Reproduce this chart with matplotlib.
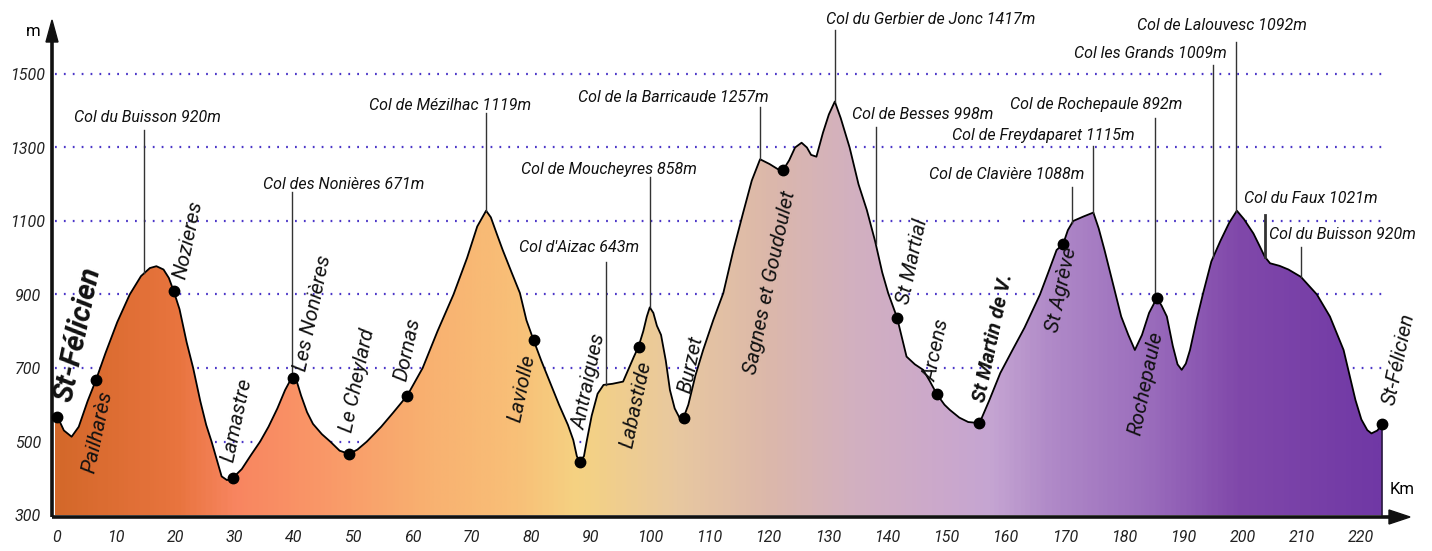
import numpy as np
import matplotlib.pyplot as plt
from matplotlib.colors import LinearSegmentedColormap
from matplotlib.patches import Polygon

# elevation profile (km, m)
km = [0.0, 0.4, 1.5, 2.8, 4.0, 5.5, 6.9, 8.5, 10.5, 12.6, 14.5, 16.0, 17.1, 18.3, 19.2,
      20.0, 21.0, 22.2, 23.3, 24.5, 25.5, 26.4, 27.3, 28.1, 29.0, 30.0, 31.5, 33.0, 34.6,
      36.0, 37.5, 38.8, 39.7, 40.2, 40.8, 41.5, 42.5, 43.5, 45.0, 46.4, 48.0, 49.6, 51.0,
      52.6, 55.0, 57.0, 59.4, 62.0, 64.5, 67.2, 69.5, 71.2, 72.7, 73.5, 74.5, 75.5, 77.0,
      78.4, 79.5, 80.7, 82.0, 83.5, 85.0, 86.5, 87.4, 88.0, 88.5, 89.2, 89.7, 90.5, 91.5,
      92.5, 94.0, 95.8, 96.8, 97.6, 98.4, 99.2, 99.8, 100.3, 100.9, 101.5, 102.2, 103.0,
      103.7, 104.5, 105.3, 106.0, 106.8, 108.0, 109.3, 111.0, 112.7, 114.4, 116.0, 117.5,
      118.9, 120.5, 122.0, 122.8, 123.8, 124.8, 125.9, 126.8, 127.5, 128.4, 129.5, 130.5,
      131.5, 132.5, 134.0, 135.5, 136.9, 138.3, 139.5, 140.5, 142.0, 143.6, 145.0, 146.4,
      147.5, 148.7, 150.0, 150.9, 152.5, 154.0, 155.9, 157.5, 159.4, 161.5, 163.5, 166.1,
      167.5, 168.9, 170.0, 170.8, 171.7, 173.4, 175.1, 176.0, 177.0, 178.4, 179.8, 181.0,
      182.1, 183.3, 184.5, 185.8, 186.6, 187.5, 188.5, 189.3, 190.0, 190.7, 191.4, 192.5,
      193.6, 195.0, 196.5, 198.0, 199.3, 200.5, 202.1, 203.2, 204.0, 204.9, 206.5, 208.0,
      210.1, 212.8, 215.0, 217.3, 219.3, 220.3, 221.3, 222.0, 223.0, 223.8]
elev = [572, 568, 530, 513, 540, 610, 667, 740, 825, 900, 950, 972, 977, 968, 945,
        910, 860, 770, 700, 610, 545, 500, 450, 405, 395, 401, 425, 462, 500,
        540, 590, 640, 667, 672, 662, 625, 580, 548, 520, 500, 475, 466, 478,
        500, 540, 578, 625, 700, 800, 900, 1000, 1085, 1128, 1110, 1065, 1021, 960,
        904, 830, 776, 720, 660, 600, 545, 504, 460, 445, 460, 504, 570, 630,
        654, 657, 663, 700, 730, 758, 800, 840, 865, 850, 815, 790, 720,
        640, 590, 565, 565, 600, 680, 749, 830, 904, 1021, 1120, 1210,
        1268, 1255, 1240, 1239, 1265, 1300, 1313, 1300, 1280, 1275, 1340, 1390,
        1425, 1380, 1300, 1200, 1130, 1045, 960, 904, 837, 731, 710, 695,
        665, 629, 600, 586, 565, 553, 550, 610, 686, 750, 810, 900,
        960, 1021, 1037, 1075, 1100, 1112, 1123, 1080, 1020, 930, 840, 790,
        749, 790, 850, 890, 870, 840, 760, 710, 695, 712, 749, 830,
        903, 990, 1045, 1095, 1128, 1105, 1066, 1030, 1003, 985, 978, 968,
        948, 900, 840, 749, 613, 560, 531, 522, 530, 548]

# towns on the route
town_names = ["St-Félicien", "Pailharès", "Nozieres", "Lamastre", "Les Nonières",
              "Le Cheylard", "Dornas", "Laviolle", "Antraigues", "Labastide", "Burzet",
              "Sagnes et Goudoulet", "St Martial", "Arcens", "St Martin de V.",
              "St Agrève", "Rochepaule", "St-Félicien"]
town_km = [0.4, 6.9, 20.0, 30.0, 40.2, 49.6, 59.4, 80.7, 88.5, 98.4, 106.0,
           122.8, 142.0, 148.7, 155.9, 170.0, 185.8, 223.8]

# passes (cols)
col_names = ["Col du Buisson 920m", "Col des Nonières 671m", "Col de Mézilhac 1119m",
             "Col d'Aizac 643m", "Col de Moucheyres 858m", "Col de la Barricaude 1257m",
             "Col du Gerbier de Jonc 1417m", "Col de Besses 998m", "Col de Clavière 1088m",
             "Col de Freydaparet 1115m", "Col de Rochepaule 892m", "Col les Grands 1009m",
             "Col de Lalouvesc 1092m", "Col du Faux 1021m", "Col du Buisson 920m"]
col_km = [15.0, 40.0, 72.7, 92.9, 100.3, 118.9, 131.5, 138.4, 171.5, 175.0,
          185.5, 195.3, 199.2, 204.0, 210.1]

x_ticks = list(range(0, 221, 10))
y_ticks = [300, 500, 700, 900, 1100, 1300, 1500]

# ---- pixel layout helpers (image is 1432 x 551) ----
X0, SX = 55, 5.93          # px of km 0, px per km
Y0, SY = 515, 0.3675       # px of 300 m, px per m


def to_km(px):
    return (px - X0) / SX


def to_m(py):
    return 300 + (Y0 - py) / SY


FONT = ['Roboto', 'DejaVu Sans']

fig = plt.figure(figsize=(14.32, 5.51), dpi=100)
ax = fig.add_axes([0, 0, 1, 1])
ax.set_xlim(to_km(0), to_km(1432))
ax.set_ylim(to_m(551), to_m(0))
ax.axis('off')

# dotted grid lines
grid_c = '#4b36c8'
for yv in y_ticks[1:]:
    if yv == 1100:
        segs = [(0, to_km(1000)), (to_km(1023), to_km(1383))]
    else:
        segs = [(0, to_km(1383))]
    for a, b in segs:
        ax.plot([a, b], [yv, yv], color=grid_c, lw=1.6, ls=(0, (0.8, 3.2)), zorder=1)

# gradient fill under the profile
stops = [(0, '#d4682a'), (20, '#e8743e'), (30, '#f88560'), (45, '#fa9868'),
         (62, '#f8b070'), (78, '#f8c078'), (88, '#f5d282'), (105, '#e8c8a0'),
         (120, '#dcb8aa'), (135, '#d2b0c0'), (150, '#cba8cc'), (158, '#c5a5d2'),
         (168, '#b08ac8'), (185, '#9a6cbc'), (200, '#8048aa'), (224, '#7038a5')]
cmap = LinearSegmentedColormap.from_list('route', [(k / 224, c) for k, c in stops])
poly_pts = [(km[0], 300)] + list(zip(km, elev)) + [(km[-1], 300)]
poly = Polygon(poly_pts, closed=True, facecolor='none', edgecolor='none')
ax.add_patch(poly)
grad = np.linspace(0, 1, 600)[None, :]
im = ax.imshow(grad, cmap=cmap, aspect='auto', extent=(0, 224, 300, 1450),
               origin='lower', zorder=2)
im.set_clip_path(poly)
ax.plot(km, elev, color='black', lw=1.3, zorder=3)
ax.plot([km[-1], km[-1]], [300, elev[-1]], color='#2a1a40', lw=1.2, zorder=3)

# axes with arrows
ax.plot([to_km(52), to_km(52)], [to_m(517), to_m(38)], color='#111', lw=2.6, zorder=4,
        solid_capstyle='butt')
ax.plot([to_km(52), to_km(1395)], [to_m(517), to_m(517)], color='#111', lw=2.6, zorder=4,
        solid_capstyle='butt')
ax.add_patch(Polygon([(to_km(46), to_m(42)), (to_km(58), to_m(42)), (to_km(52), to_m(20))],
                     closed=True, color='#111', zorder=5))
ax.add_patch(Polygon([(to_km(1389), to_m(510)), (to_km(1389), to_m(524)),
                      (to_km(1410), to_m(517))], closed=True, color='#111', zorder=5))

for xv in x_ticks:
    ax.text(xv + 0.3, to_m(538), str(xv), ha='center', va='center', fontsize=11.5,
            style='italic', family=FONT, color='#222')
for yv in y_ticks:
    ax.text(to_km(28), yv - 5, str(yv), ha='center', va='center', fontsize=11.5,
            style='italic', family=FONT, color='#222')
ax.text(to_km(33), to_m(32), 'm', ha='center', va='center', fontsize=12, family=FONT)
ax.text(to_km(1402), to_m(489), 'Km', ha='center', va='center', fontsize=12, family=FONT)

# town dots and rotated labels (offsets in px from the dot)
town_off = [(21, -82), (2, 52), (15, -51), (4, -58), (20, -65), (9, -74), (0, -46),
            (-11, 48), (10, -80), (-2, 58), (7, -53), (-13, 113), (16, -56), (0, -44),
            (14, -85), (-1, 46), (-11, 85), (17, -65)]
town_style = {0: dict(fontsize=21, weight='bold'), 14: dict(fontsize=14.5, weight='bold')}
for i, (name, tk) in enumerate(zip(town_names, town_km)):
    te = np.interp(tk, km, elev)
    ax.plot(tk, te, 'o', color='black', ms=7.5, zorder=6)
    dx, dy = town_off[i]
    st = town_style.get(i, dict(fontsize=15, weight='normal'))
    ax.text(tk + dx / SX, te - dy / SY, name, rotation=78, ha='center', va='center',
            style='italic', family=FONT, color='#111', zorder=7, **st)

# col labels: text centre (px) and leader top (px)
col_text = [(147, 118), (344, 185), (450, 106), (579, 248), (609, 170), (673, 98),
            (931, 20), (923, 115), (1007, 175), (1043, 136), (1096, 104), (1150, 54),
            (1222, 25), (1311, 199), (1342, 235)]
col_top = [130, 192, 113, 262, 177, 107, 30, 127, 187, 146, 118, 65, 42, 215, 247]
for i, (name, ck) in enumerate(zip(col_names, col_km)):
    ce = np.interp(ck, km, elev)
    lw = 2.0 if i == 13 else 1.0
    ax.plot([ck, ck], [to_m(col_top[i]), ce], color='#333', lw=lw, zorder=3.5)
    tx, ty = col_text[i]
    ax.text(to_km(tx), to_m(ty), name, ha='center', va='center', fontsize=11.5,
            style='italic', family=FONT, color='#111', zorder=7)

fig.savefig('out.png', dpi=100)
